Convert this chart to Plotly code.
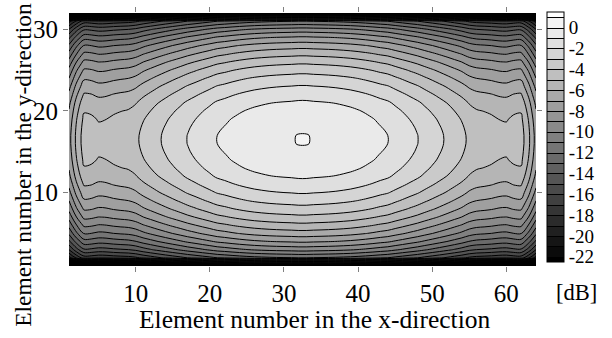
import numpy as np
import plotly.graph_objects as go

# Element indices
x_elements = list(range(1, 65))
y_elements = list(range(1, 33))

# Level profile (dB) read along the centre row (y ~ 16.5), x = 1..64
x_profile_db = [
    -7.4, -5.8, -4.55, -4.6, -4.8, -4.75, -4.6, -4.5, -4.42, -4.2,
    -3.8, -3.48, -3.16, -2.86, -2.57, -2.29, -2.0, -1.76, -1.51, -1.27,
    -1.02, -0.88, -0.71, -0.56, -0.43, -0.32, -0.24, -0.17, -0.12, -0.08,
    -0.05, 0.0, 0.0, -0.05,
    -0.08, -0.12, -0.17, -0.24, -0.32, -0.43, -0.56, -0.71, -0.88, -1.02,
    -1.27, -1.51, -1.76, -2.0, -2.29, -2.57, -2.86, -3.16, -3.48, -3.8,
    -4.2, -4.42, -4.5, -4.6, -4.75, -4.8, -4.6, -4.55, -5.8, -7.4,
]

# Level profile (dB) read along the centre column (x ~ 32.5), y = 1..32
y_profile_db = [
    -23.0, -12.0, -9.6, -7.85, -6.4, -5.26, -4.21, -3.33, -2.59, -1.92,
    -1.36, -0.86, -0.52, -0.26, -0.09, 0.02, 0.02, -0.09, -0.26, -0.52,
    -0.86, -1.36, -1.92, -2.59, -3.33, -4.21, -5.26, -6.4, -7.85, -9.6,
    -12.0, -23.0,
]

cbar_tickvals = [0, -2, -4, -6, -8, -10, -12, -14, -16, -18, -20, -22]
cbar_ticktext = ["0", "-2", "-4", "-6", "-8", "-10", "-12", "-14", "-16", "-18", "-20", "-22"]
x_tickvals = [10, 20, 30, 40, 50, 60]
y_tickvals = [10, 20, 30]

z = np.add.outer(np.array(y_profile_db), np.array(x_profile_db))

FONT = "Liberation Serif"

fig = go.Figure(
    go.Contour(
        x=x_elements,
        y=y_elements,
        z=z,
        contours=dict(start=-22, end=1, size=1, coloring="fill"),
        line=dict(color="black", width=1),
        colorscale=[[0, "#000000"], [1, "#ffffff"]],
        colorbar=dict(
            x=1.023, xanchor="left", xpad=0,
            y=1.004, yanchor="top", ypad=0,
            lenmode="pixels", len=250,
            thickness=17,
            outlinewidth=1, outlinecolor="black",
            ticks="",
            tickvals=cbar_tickvals,
            ticktext=cbar_ticktext,
            tickfont=dict(family=FONT, size=19, color="black"),
        ),
    )
)

axis_common = dict(
    ticks="outside", ticklen=5, tickwidth=1, tickcolor="#808080",
    mirror="ticks", showgrid=False, zeroline=False, showline=False,
    tickfont=dict(family=FONT, size=25, color="black"),
)

fig.update_layout(
    width=612, height=338,
    margin=dict(l=69, r=76, t=13, b=72),
    paper_bgcolor="white", plot_bgcolor="white",
    font=dict(family=FONT, color="black"),
    xaxis=dict(range=[1, 64], tickvals=x_tickvals, **axis_common),
    yaxis=dict(range=[1, 32], tickvals=y_tickvals, **axis_common),
    annotations=[
        dict(text="Element number in the x-direction", xref="paper", yref="paper",
             x=0.526, y=-0.213, xanchor="center", yanchor="middle", showarrow=False,
             font=dict(family=FONT, size=25.5, color="black")),
        dict(text="Element number in the y-direction", xref="paper", yref="paper",
             x=-0.099, y=0.399, xanchor="center", yanchor="middle", showarrow=False,
             textangle=-90, font=dict(family=FONT, size=23.5, color="black")),
        dict(text="[dB]", xref="paper", yref="paper",
             x=1.0857, y=-0.1066, xanchor="center", yanchor="middle", showarrow=False,
             font=dict(family=FONT, size=22.5, color="black")),
    ],
)

fig.write_html("out.html")
